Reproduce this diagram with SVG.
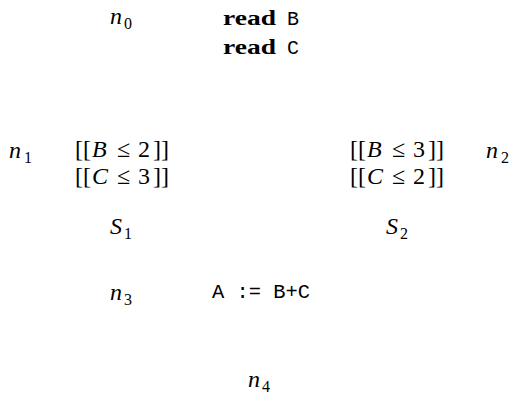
<svg xmlns="http://www.w3.org/2000/svg" width="512" height="396" viewBox="0 0 512 396">
<style>
text{font-family:"Liberation Serif","DejaVu Serif",serif;font-size:24px;fill:#000}
.i{font-style:italic}
.b{font-weight:bold;font-size:22px}
.m{font-family:"Liberation Mono","DejaVu Sans Mono",monospace;font-size:20px}
.s{font-size:16px;font-style:normal}
</style>
<rect width="512" height="396" fill="#fff"/>
<g id="n0">
<text x="110" y="24" class="i">n</text><text x="124" y="29" class="s">0</text>
<text x="223" y="25" class="b" textLength="53" lengthAdjust="spacingAndGlyphs">read</text>
<text x="287" y="25" class="m">B</text>
<text x="223" y="54" class="b" textLength="53" lengthAdjust="spacingAndGlyphs">read</text>
<text x="287" y="54" class="m">C</text>
</g>
<g id="n1">
<text x="9" y="158" class="i">n</text><text x="24" y="163" class="s">1</text>
<text x="75" y="157">[[</text><text x="92" y="157" class="i">B</text><text x="117" y="157">≤</text><text x="138" y="157">2</text><text x="153" y="157">]]</text>
<text x="75" y="184">[[</text><text x="92" y="184" class="i">C</text><text x="117" y="184">≤</text><text x="138" y="184">3</text><text x="153" y="184">]]</text>
<text x="110" y="234" class="i">S</text><text x="124" y="239" class="s">1</text>
</g>
<g id="n2">
<text x="486" y="158" class="i">n</text><text x="501" y="163" class="s">2</text>
<text x="350" y="157">[[</text><text x="367" y="157" class="i">B</text><text x="392" y="157">≤</text><text x="413" y="157">3</text><text x="428" y="157">]]</text>
<text x="350" y="184">[[</text><text x="367" y="184" class="i">C</text><text x="392" y="184">≤</text><text x="413" y="184">2</text><text x="428" y="184">]]</text>
<text x="386" y="234" class="i">S</text><text x="400" y="239" class="s">2</text>
</g>
<g id="n3">
<text x="110" y="300" class="i">n</text><text x="124" y="305" class="s">3</text>
<text x="212" y="298" class="m" xml:space="preserve" textLength="98" lengthAdjust="spacingAndGlyphs">A := B+C</text>
</g>
<g id="n4">
<text x="248" y="387" class="i">n</text><text x="262" y="392" class="s">4</text>
</g>
<g id="connectors"></g>
</svg>
